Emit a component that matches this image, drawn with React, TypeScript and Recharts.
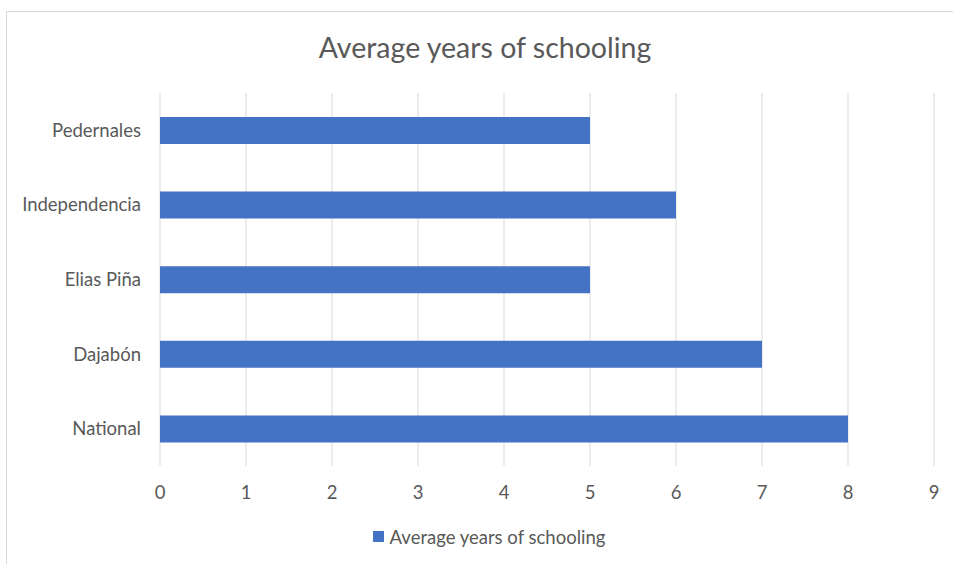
import React from 'react';
import { BarChart, Bar, XAxis, YAxis, CartesianGrid, Legend } from 'recharts';

const regions = ['Pedernales', 'Independencia', 'Elias Piña', 'Dajabón', 'National'];
const schoolingYears = [5, 6, 5, 7, 8];
const xTicks = [0, 1, 2, 3, 4, 5, 6, 7, 8, 9];

const data = regions.map((name, i) => ({ name, years: schoolingYears[i] }));

const FONT = 'Lato, "Open Sans", sans-serif';
const TEXT = '#595959';
const BLUE = '#4472C4';
const GRID = '#D9D9D9';

function LegendBox() {
  return (
    <div style={{ display: 'flex', justifyContent: 'center', alignItems: 'center', height: 25, paddingLeft: 34, paddingTop: 3, fontFamily: FONT, fontSize: 18.5, color: TEXT }}>
      <span style={{ width: 11, height: 11, background: BLUE, marginRight: 6, display: 'inline-block' }} />
      Average years of schooling
    </div>
  );
}

export default function App() {
  return (
    <div style={{ position: 'absolute', left: 0, top: 0, width: 953, height: 564, overflow: 'hidden', background: '#fff' }}>
      <div style={{ position: 'absolute', left: 6, top: 11, width: 1000, height: 600, border: `1px solid ${GRID}` }} />
      <div style={{ position: 'absolute', left: 6, width: 958, top: 31, textAlign: 'center', fontFamily: FONT, fontSize: 28.5, lineHeight: '32px', color: TEXT }}>
        Average years of schooling
      </div>
      <div style={{ position: 'absolute', left: 0, top: 0 }}>
        <BarChart width={953} height={564} data={data} layout="vertical" margin={{ top: 93, right: 19, bottom: 18, left: 10 }}>
          <CartesianGrid vertical horizontal={false} stroke={GRID} />
          <XAxis type="number" domain={[0, 9]} ticks={xTicks} axisLine={false} tickLine={false} height={55} tickMargin={14}
            tick={{ fill: TEXT, fontSize: 18.5, fontFamily: FONT }} />
          <YAxis type="category" dataKey="name" width={150} axisLine={false} tickLine={false} tickMargin={13}
            tick={{ fill: TEXT, fontSize: 18.5, fontFamily: FONT }} />
          <Legend verticalAlign="bottom" height={25} content={<LegendBox />} />
          <Bar dataKey="years" fill={BLUE} barSize={27} isAnimationActive={false} />
        </BarChart>
      </div>
    </div>
  );
}
